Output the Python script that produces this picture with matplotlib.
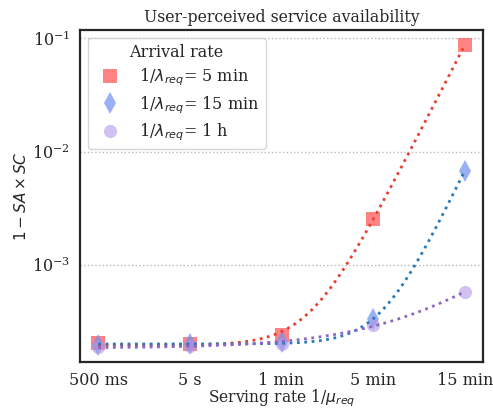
import numpy as np
import matplotlib
matplotlib.use('Agg')
import matplotlib.pyplot as plt
import seaborn as sns

serving = ['500 ms', '5 s', '1 min', '5 min', '15 min']
rate_5min = [2.07e-4, 2.0e-4, 2.43e-4, 2.53e-3, 8.7e-2]
rate_15min = [1.98e-4, 2.0e-4, 2.1e-4, 3.36e-4, 6.8e-3]
rate_1h = [1.9e-4, 1.95e-4, 2.0e-4, 2.98e-4, 5.8e-4]
labels = ['1/$\\lambda_{req}$= 5 min', '1/$\\lambda_{req}$= 15 min', '1/$\\lambda_{req}$= 1 h']

sns.set_style('white')
plt.rcParams['font.family'] = ['DejaVu Serif']
plt.rcParams['mathtext.fontset'] = 'dejavusans'


def exp_fit(x, y):
  '''fits y = a + b*exp(c*x), a and b by least squares, c by a grid search'''
  best = None
  for c in np.linspace(0.2, 6, 600):
    A = np.column_stack([np.ones_like(x), np.exp(c * x)])
    coef, *_ = np.linalg.lstsq(A, y, rcond=None)
    err = np.sum((np.log(np.maximum(A @ coef, 1e-9)) - np.log(y)) ** 2)
    if best is None or err < best[0]:
      best = (err, c, coef)
  _, c, coef = best
  return lambda t: coef[0] + coef[1] * np.exp(c * t)


fig, ax = plt.subplots(figsize=(4.93, 4.09), dpi=100)
fig.subplots_adjust(left=0.162, right=0.980, bottom=0.115, top=0.927)

x = np.arange(len(serving))
xs = np.linspace(0, 4, 200)
series = [
  (rate_5min, 's', '#ff5a5a', 0.75, '#e8402f', 9.5),
  (rate_15min, 'd', '#6f8ff0', 0.7, '#2a7ab9', 11),
  (rate_1h, 'o', '#b497e6', 0.6, '#8e66c6', 9.5),
]
for (vals, m, col, al, lcol, ms), lab in zip(series, labels):
  ax.plot(x, vals, linestyle='none', marker=m, markersize=ms, color=col,
          alpha=al, markeredgewidth=0, label=lab, zorder=2)
for (vals, m, col, al, lcol, ms) in series:
  f = exp_fit(x.astype(float), np.array(vals))
  ax.plot(xs, f(xs), linestyle=':', color=lcol, linewidth=2, zorder=3)

ax.set_yscale('log')
ax.set_ylim(1.4e-4, 1.18e-1)
ax.set_xlim(-0.2, 4.2)
ax.set_xticks(x)
ax.set_xticklabels(serving, fontsize=11.5)
ax.tick_params(axis='y', labelsize=11.5)
ax.minorticks_off()
ax.yaxis.grid(True, linestyle=':', color='#bbbbbb', linewidth=1)
ax.xaxis.grid(False)
for s in ax.spines.values():
  s.set_color('#262626')
  s.set_linewidth(1.6)

ax.set_title('User-perceived service availability', fontsize=11.3)
ax.set_xlabel('Serving rate 1/$\\mu_{req}$', fontsize=11.2, labelpad=-1)
ax.set_ylabel('$1-SA\\times SC$', fontsize=11, labelpad=2)
leg = ax.legend(title='Arrival rate', loc='upper left', fontsize=11.5,
                title_fontsize=11.5, frameon=True, labelspacing=0.35)

plt.savefig('out.png', dpi=100)
